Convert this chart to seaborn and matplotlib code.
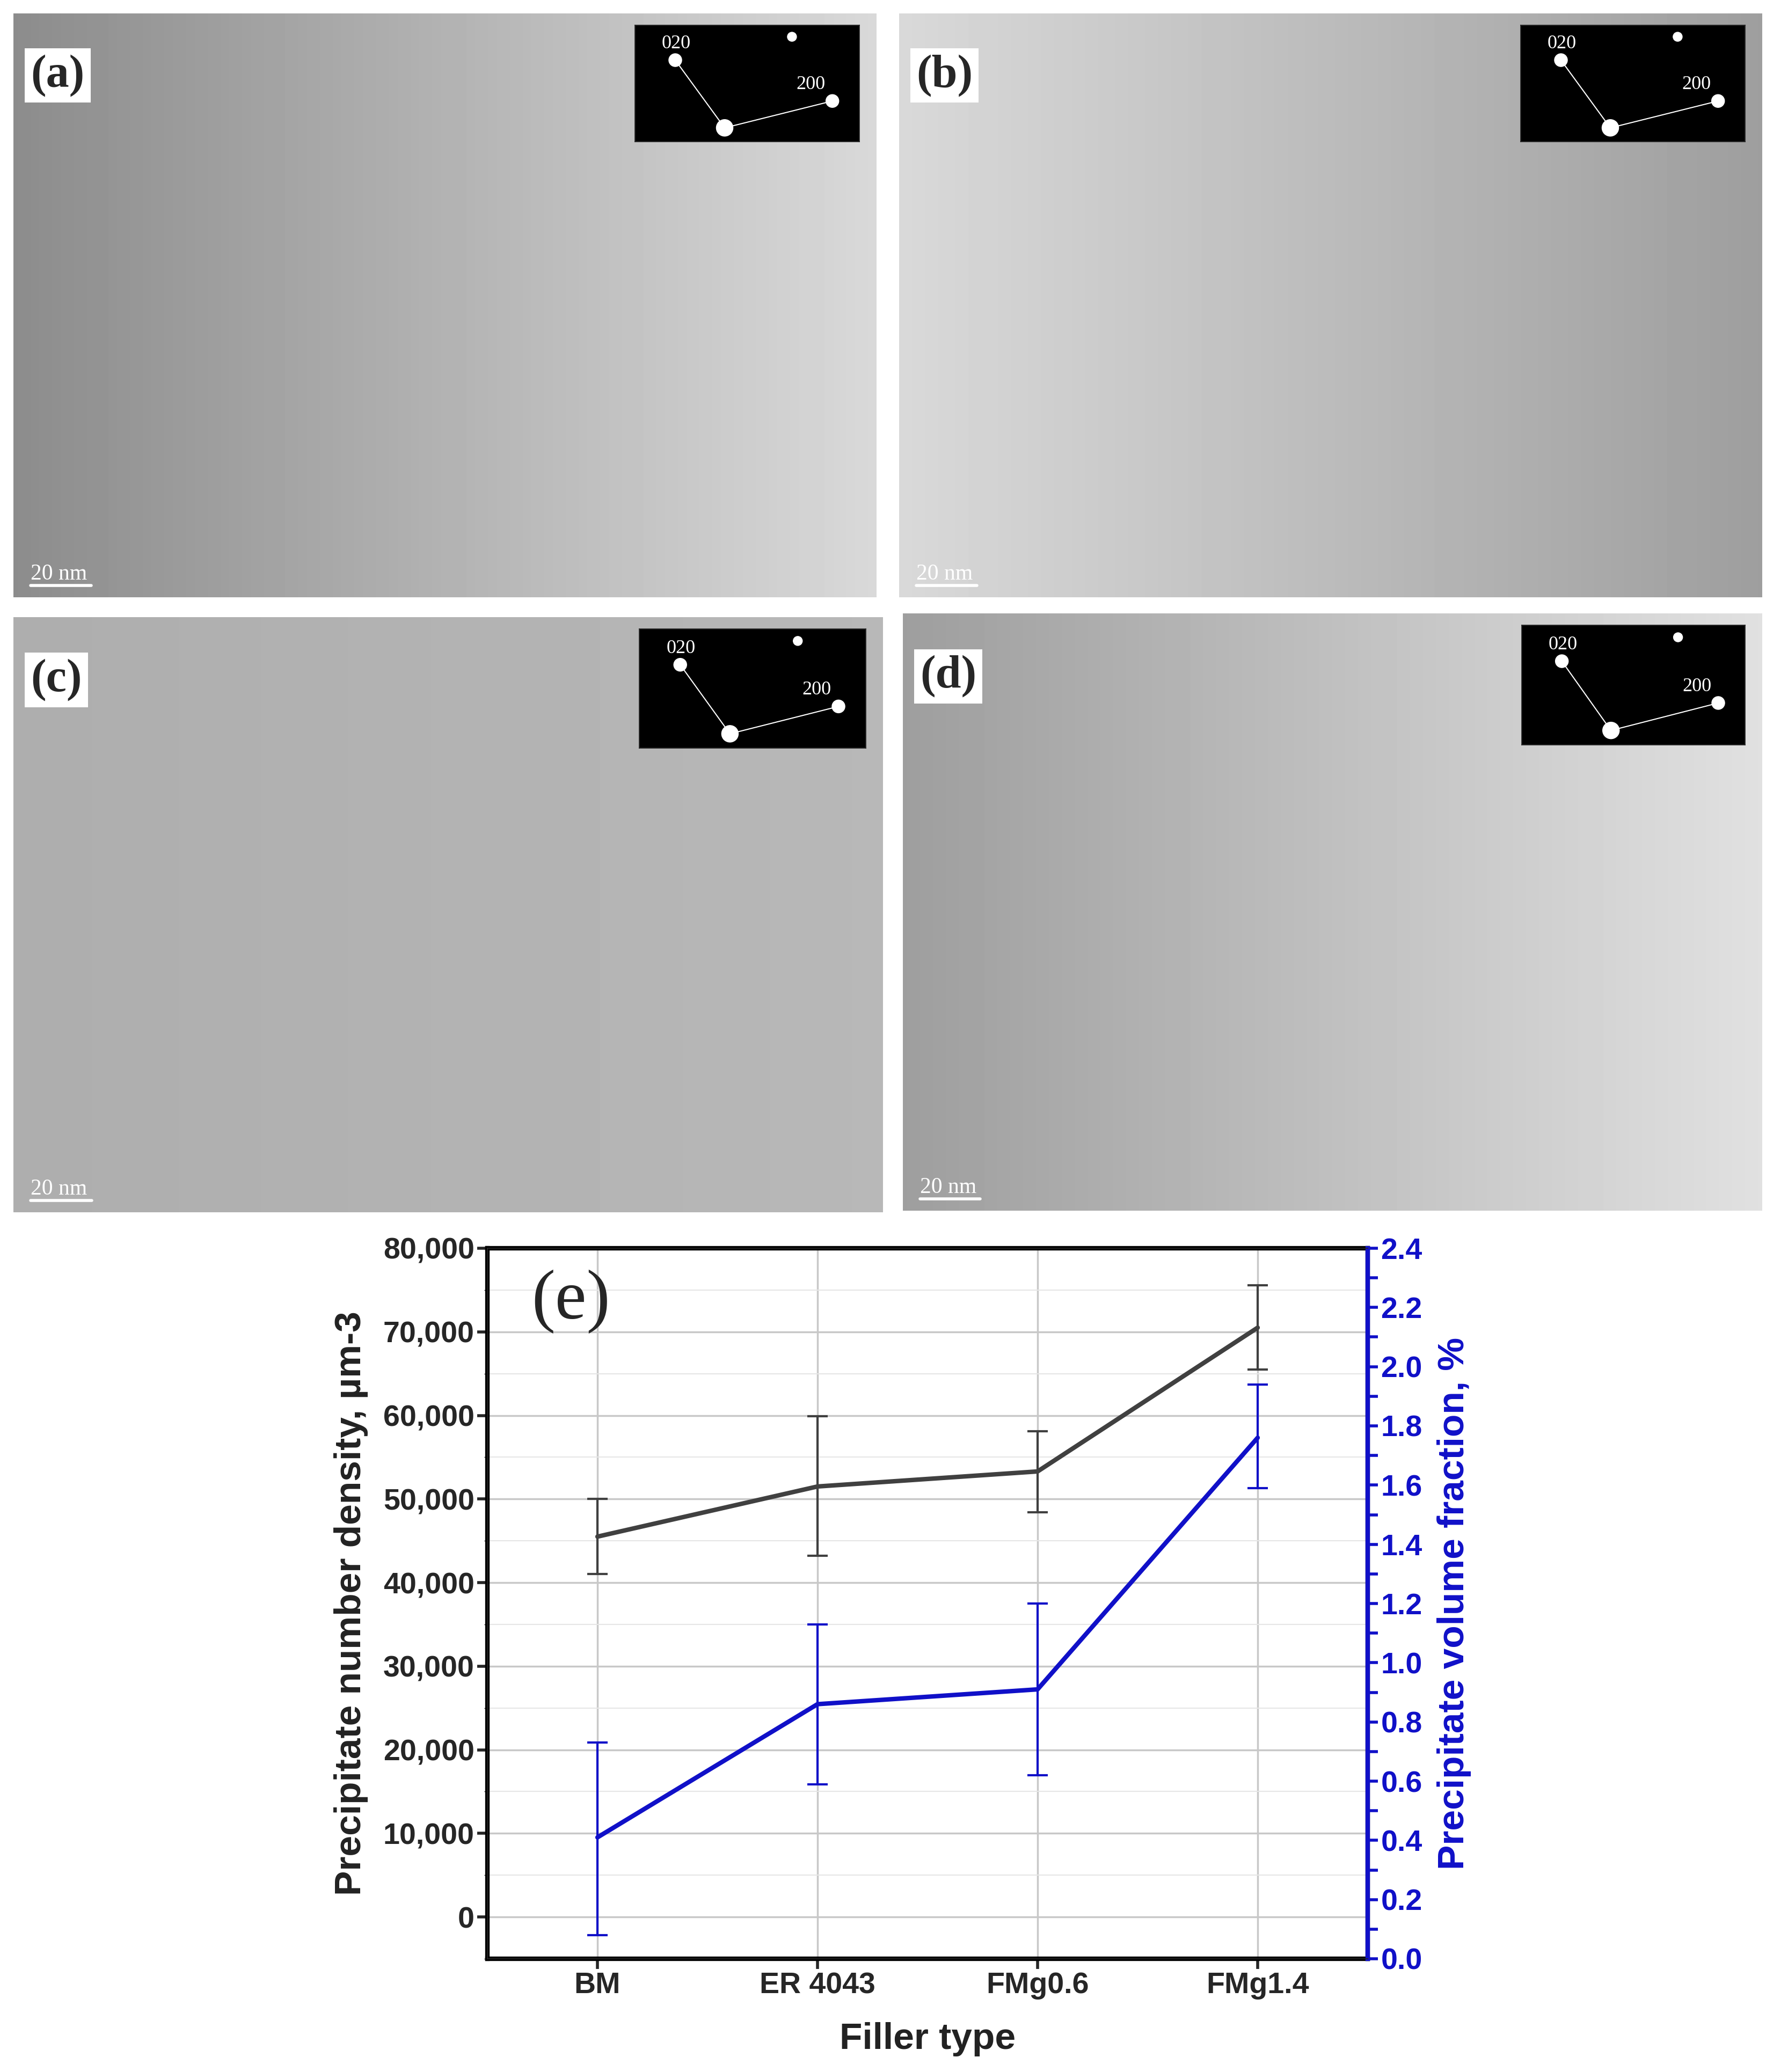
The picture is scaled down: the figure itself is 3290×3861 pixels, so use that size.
import numpy as np
import matplotlib
matplotlib.use("Agg")
import matplotlib.pyplot as plt
import seaborn as sns
import pandas as pd

sns.set_theme(style="white")
plt.rcParams['font.family'] = ['Liberation Sans', 'DejaVu Sans']

fillers = ["BM", "ER 4043", "FMg0.6", "FMg1.4"]
density = [45500, 51500, 53300, 70500]
density_lo = [41000, 43200, 48400, 65500]
density_hi = [50000, 59900, 58100, 75600]
volfrac = [0.41, 0.86, 0.91, 1.76]
vol_lo = [0.08, 0.59, 0.62, 1.59]
vol_hi = [0.73, 1.13, 1.20, 1.94]
panel_labels = ["(a)", "(b)", "(c)", "(d)"]

W, H = 3291, 3861
fig = plt.figure(figsize=(W/100, H/100), dpi=100)

def fr(x0, y0, x1, y1):
    return [x0/W, 1-y1/H, (x1-x0)/W, (y1-y0)/H]

panels = [(25, 25, 1633, 1113), (1675, 25, 3283, 1113),
          (25, 1150, 1645, 2259), (1682, 1143, 3283, 2256)]
grads = [(0.55, 0.85), (0.85, 0.62), (0.68, 0.72), (0.62, 0.88)]
for i, (p, g) in enumerate(zip(panels, grads)):
    a = fig.add_axes(fr(*p))
    xx = np.linspace(g[0], g[1], 200)
    img = np.tile(xx, (120, 1))
    a.imshow(img, cmap="gray", vmin=0, vmax=1, aspect="auto", extent=[0, 1, 0, 1])
    a.set_xticks([]); a.set_yticks([])
    for s in a.spines.values():
        s.set_visible(False)
    a.text(0.02, 0.93, panel_labels[i], transform=a.transAxes, fontsize=62,
           fontweight="bold", family="Liberation Serif", va="top",
           bbox=dict(facecolor="white", edgecolor="none", pad=8))
    a.text(0.02, 0.03, "20 nm", transform=a.transAxes, fontsize=30,
           family="Liberation Serif", color="white")
    a.plot([0.02, 0.09], [0.02, 0.02], color="white", lw=4, transform=a.transAxes)
    ins = a.inset_axes([0.72, 0.78, 0.26, 0.2])
    ins.set_facecolor("black")
    ins.set_xlim(0, 1); ins.set_ylim(0, 1)
    ins.set_xticks([]); ins.set_yticks([])
    ins.plot([0.18, 0.4, 0.88], [0.7, 0.12, 0.35], color="white", lw=1.5)
    ins.scatter([0.18, 0.4, 0.88, 0.7], [0.7, 0.12, 0.35, 0.9], s=[300, 500, 300, 150], color="white")
    ins.text(0.12, 0.8, "020", color="white", fontsize=26, family="Liberation Serif")
    ins.text(0.72, 0.45, "200", color="white", fontsize=26, family="Liberation Serif")

ax = fig.add_axes([908/W, 1-3650/H, (2548-908)/W, (3650-2326)/H])
df = pd.DataFrame({"Filler": fillers, "density": density, "vol": volfrac})
x = np.arange(len(fillers))
sns.lineplot(x=x, y=density, ax=ax, color="#404040", lw=6)
ax.errorbar(x, density, yerr=[np.array(density)-np.array(density_lo), np.array(density_hi)-np.array(density)],
            fmt="none", ecolor="#404040", elinewidth=3, capsize=14, capthick=3)
ax.set_ylim(-5000, 80000)
ax.set_xlim(-0.5, 3.5)
ax.set_yticks(range(0, 80001, 10000))
ax.set_yticklabels([f"{v:,}" for v in range(0, 80001, 10000)])
ax.set_xticks(x)
ax.set_xticklabels(fillers)
ax.grid(True, color="#c8c8c8", lw=2.5)
ax.set_yticks(np.arange(-5000, 80001, 5000), minor=True)
ax.grid(True, which="minor", axis="y", color="#e6e6e6", lw=1.5)
ax.tick_params(axis="both", labelsize=40, width=4, length=14, direction="out", left=True, bottom=True)
for t in ax.get_xticklabels() + ax.get_yticklabels():
    t.set_fontweight("bold")
ax.set_xlabel("Filler type", fontsize=50, fontweight="bold", color="#222222", labelpad=30)
ax.set_ylabel("Precipitate number density, µm-3", fontsize=50, fontweight="bold", color="#222222", labelpad=20)
for s in ax.spines.values():
    s.set_linewidth(6); s.set_color("black")
ax.text(0.05, 0.97, "(e)", transform=ax.transAxes, fontsize=95, family="Liberation Serif", va="top")

ax2 = ax.twinx()
sns.lineplot(x=x, y=volfrac, ax=ax2, color="#1010c8", lw=6)
ax2.errorbar(x, volfrac, yerr=[np.array(volfrac)-np.array(vol_lo), np.array(vol_hi)-np.array(volfrac)],
             fmt="none", ecolor="#1010c8", elinewidth=3, capsize=14, capthick=3)
ax2.set_ylim(0, 2.4)
ax2.set_yticks(np.arange(0, 2.41, 0.2))
ax2.set_yticklabels([f"{v:.1f}" for v in np.arange(0, 2.41, 0.2)])
ax2.set_yticks(np.arange(0, 2.41, 0.1), minor=True)
ax2.tick_params(axis="y", labelsize=40, width=4, length=14, colors="#1010c8", right=True, which="both")
for t in ax2.get_yticklabels():
    t.set_fontweight("bold")
ax2.spines["right"].set_color("#1010c8"); ax2.spines["right"].set_linewidth(6)
ax2.set_ylabel("Precipitate volume fraction, %", fontsize=50, fontweight="bold", color="#1010c8", labelpad=20)
ax2.grid(False)

fig.savefig("out.png", dpi=100)
